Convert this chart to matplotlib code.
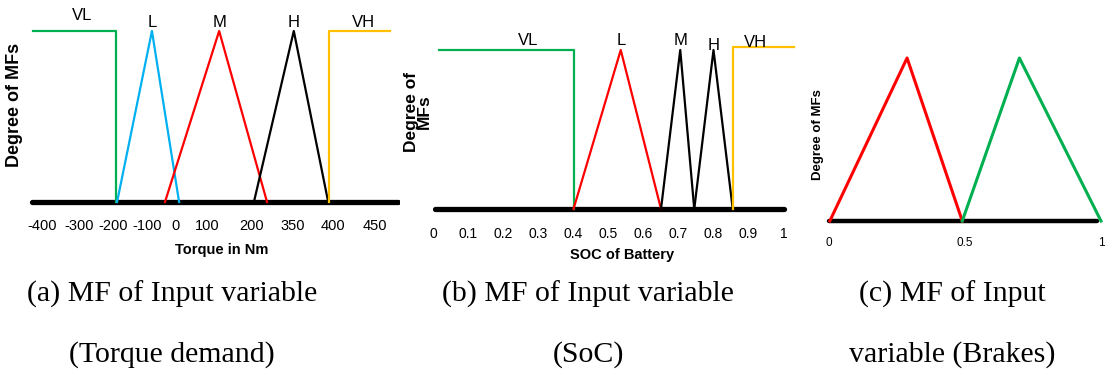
import matplotlib
matplotlib.use("Agg")
import matplotlib.pyplot as plt
import numpy as np

# ---- data ----
# (a) torque demand MFs (Nm)
torque_ticks = [-400, -300, -200, -100, 0, 100, 200, 350, 400, 450]
torque_vl_x, torque_vl_y = [-425, -191, -191], [1, 1, 0]
torque_l_x, torque_l_y = [-188, -83, 10], [0, 1, 0]
torque_m_x, torque_m_y = [-38, 127, 255], [0, 1, 0]
torque_h_x, torque_h_y = [207, 351, 394], [0, 1, 0]
torque_vh_x, torque_vh_y = [395, 395, 486], [0, 1, 1]
torque_range = [-427, 505]
torque_names = ["VL", "L", "M", "H", "VH"]
torque_name_x = [-290, -83, 127, 351, 436]
torque_name_y = [1.09, 1.05, 1.05, 1.05, 1.05]

# (b) SOC MFs
soc_ticks = [0, 0.1, 0.2, 0.3, 0.4, 0.5, 0.6, 0.7, 0.8, 0.9, 1]
soc_vl_x, soc_vl_y = [0.015, 0.40, 0.40], [1, 1, 0]
soc_l_x, soc_l_y = [0.40, 0.535, 0.65], [0, 1, 0]
soc_m_x, soc_m_y = [0.65, 0.705, 0.745], [0, 1, 0]
soc_h_x, soc_h_y = [0.745, 0.80, 0.855], [0, 1, 0]
soc_vh_x, soc_vh_y = [0.855, 0.855, 1.03], [0, 1.02, 1.02]
soc_range = [0.004, 1.0]
soc_names = ["VL", "L", "M", "H", "VH"]
soc_name_x = [0.27, 0.535, 0.705, 0.80, 0.92]
soc_name_y = [1.06, 1.06, 1.06, 1.03, 1.05]

# (c) brakes MFs
brake_ticks = [0, 0.5, 1]
brake_tick_labels = ["0", "0.5", "1"]
brake_red_x, brake_red_y = [0.003, 0.287, 0.49], [0, 1, 0]
brake_green_x, brake_green_y = [0.49, 0.70, 1.0], [0, 1, 0]
brake_range = [0, 0.985]

caption_line1 = ["(a) MF of Input variable", "(b) MF of Input variable", "(c) MF of Input"]
caption_line2 = ["(Torque demand)", "(SoC)", "variable (Brakes)"]

# ---- layout ----
W, H = 1108, 378
GREEN, BLUE, RED, GOLD = "#00B050", "#00B0F0", "#FF0000", "#FFC000"
sans = "Liberation Sans"
serif = "Liberation Serif"

fig = plt.figure(figsize=(W / 100, H / 100), dpi=100)


def px_axes(left, top, right, bottom):
    ax = fig.add_axes([left / W, 1 - bottom / H, (right - left) / W, (bottom - top) / H])
    for s in ax.spines.values():
        s.set_visible(False)
    ax.set_yticks([])
    ax.set_facecolor("none")
    return ax


# (a) the tick labels are not evenly spaced in the source, so map them
tick_px = [5, 42, 79, 113, 147, 176, 207, 252, 293, 333, 375, 417]
tick_val = [-500] + torque_ticks + [550]


def fwd(v):
    return np.interp(v, tick_val, tick_px)


def inv(p):
    return np.interp(p, tick_px, tick_val)


ax1 = px_axes(20, 31 - 0.1 * 171, 400, 202 + 0.05 * 171)
ax1.set_xscale("function", functions=(fwd, inv))
ax1.set_xlim(inv(20), inv(400))
ax1.set_ylim(-0.05, 1.1)
ax1.plot(torque_range, [0, 0], color="black", lw=3.8, solid_capstyle="round", zorder=1)
for xs, ys, c in [(torque_vl_x, torque_vl_y, GREEN), (torque_l_x, torque_l_y, BLUE),
                  (torque_m_x, torque_m_y, RED), (torque_h_x, torque_h_y, "black"),
                  (torque_vh_x, torque_vh_y, GOLD)]:
    ax1.plot(xs, ys, color=c, lw=1.6, zorder=2)
for n, x, y in zip(torque_names, torque_name_x, torque_name_y):
    ax1.text(x, y, n, ha="center", va="center", fontsize=12, family=sans)
ax1.set_xticks(torque_ticks)
ax1.set_xticklabels([str(t) for t in torque_ticks], fontsize=10.5, family=sans)
ax1.tick_params(axis="x", length=0, pad=6)
ax1.xaxis.set_minor_locator(matplotlib.ticker.NullLocator())
fig.text(222 / W, 1 - 250 / H, "Torque in Nm", ha="center", va="center",
         fontsize=10.5, fontweight="bold", family=sans)
fig.text(15 / W, 1 - 105 / H, "Degree of MFs", ha="center", va="center", rotation=90,
         fontsize=13, fontweight="bold", family=sans)

# (b)
ax2 = px_axes(425, 50 - 0.2 * 159, 800, 209 + 0.05 * 159)
ax2.set_xlim((425 - 433.5) / 350.0, (800 - 433.5) / 350.0)
ax2.set_ylim(-0.05, 1.2)
ax2.plot(soc_range, [0, 0], color="black", lw=3.8, solid_capstyle="round", zorder=1)
for xs, ys, c in [(soc_vl_x, soc_vl_y, GREEN), (soc_l_x, soc_l_y, RED),
                  (soc_m_x, soc_m_y, "black"), (soc_h_x, soc_h_y, "black"),
                  (soc_vh_x, soc_vh_y, GOLD)]:
    ax2.plot(xs, ys, color=c, lw=1.6, zorder=2)
for n, x, y in zip(soc_names, soc_name_x, soc_name_y):
    ax2.text(x, y, n, ha="center", va="center", fontsize=12, family=sans)
ax2.set_xticks(soc_ticks)
ax2.set_xticklabels([f"{t:g}" for t in soc_ticks], fontsize=10, family=sans)
ax2.tick_params(axis="x", length=0, pad=7)
fig.text(622 / W, 1 - 255 / H, "SOC of Battery", ha="center", va="center",
         fontsize=10.5, fontweight="bold", family=sans)
fig.text(418 / W, 1 - 112 / H, "Degree of\nMFs", ha="center", va="center", rotation=90,
         fontsize=12.5, fontweight="bold", family=sans, linespacing=0.85)

# (c)
ax3 = px_axes(815, 58 - 0.3 * 163, 1108, 221 + 0.05 * 163)
ax3.set_xlim((815 - 829) / 272, (1108 - 829) / 272)
ax3.set_ylim(-0.05, 1.3)
ax3.plot(brake_range, [0, 0], color="black", lw=3.2, solid_capstyle="round", zorder=1)
ax3.plot(brake_red_x, brake_red_y, color=RED, lw=2.2, zorder=2)
ax3.plot(brake_green_x, brake_green_y, color=GREEN, lw=2.2, zorder=2)
ax3.set_xticks(brake_ticks)
ax3.set_xticklabels(brake_tick_labels, fontsize=8.5, family=sans)
ax3.tick_params(axis="x", length=0, pad=6)
fig.text(818 / W, 1 - 135 / H, "Degree of MFs", ha="center", va="center", rotation=90,
         fontsize=9.5, fontweight="bold", family=sans)

# captions
for cx, l1, l2 in zip([172, 588, 952], caption_line1, caption_line2):
    fig.text(cx / W, 1 - 294 / H, l1, ha="center", va="center", fontsize=21.5, family=serif)
    fig.text(cx / W, 1 - 355 / H, l2, ha="center", va="center", fontsize=21.5, family=serif)

fig.savefig("out.png", dpi=100)
